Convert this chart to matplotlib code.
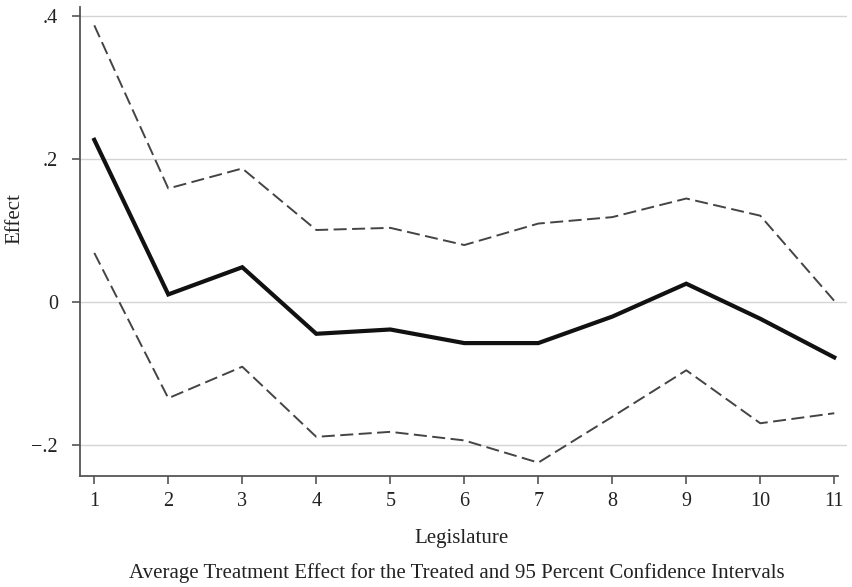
import matplotlib
matplotlib.use('Agg')
import matplotlib.pyplot as plt

# legislature number, point estimate and 95% CI bounds
legislature = [1, 2, 3, 4, 5, 6, 7, 8, 9, 10, 11]
effect = [0.227, 0.011, 0.049, -0.044, -0.038, -0.057, -0.057, -0.020, 0.026, -0.023, -0.077]
upper = [0.387, 0.159, 0.187, 0.101, 0.104, 0.080, 0.110, 0.119, 0.145, 0.121, 0.002]
lower = [0.069, -0.134, -0.090, -0.188, -0.181, -0.193, -0.224, -0.160, -0.095, -0.169, -0.155]

yticks = [-0.2, 0, 0.2, 0.4]
ytick_labels = ['\u2212.2', '0', '.2', '.4']

plt.rcParams['font.family'] = ['Liberation Serif', 'DejaVu Serif']

W, H = 853, 587
fig = plt.figure(figsize=(W / 100, H / 100), dpi=100)
ax = fig.add_axes([80 / W, 1 - 475.5 / H, (846.7 - 80) / W, (475.5 - 6.7) / H])

ax.set_xlim(0.807, 11.168)
ax.set_ylim(-0.242, 0.413)

for y in yticks:
    ax.axhline(y, color='#d4d4d4', lw=1.0, zorder=0)

ax.plot(legislature, upper, color='#444444', lw=1.4, dashes=(6.7, 2.8))
ax.plot(legislature, lower, color='#444444', lw=1.4, dashes=(6.7, 2.8))
ax.plot(legislature, effect, color='#111111', lw=3.0, solid_joinstyle='miter')

ax.spines['top'].set_visible(False)
ax.spines['right'].set_visible(False)
for s in ('left', 'bottom'):
    ax.spines[s].set_color('#555555')
    ax.spines[s].set_linewidth(1.3)
ax.spines['bottom'].set_bounds(0.807, 11.05)

ax.set_xticks(legislature)
ax.set_xticklabels([str(v) for v in legislature])
ax.set_yticks(yticks)
ax.set_yticklabels(ytick_labels)
ax.tick_params(axis='both', direction='out', length=6, width=1.2, color='#555555',
               labelsize=14.5, labelcolor='#222222')
ax.tick_params(axis='x', pad=6)
ax.tick_params(axis='y', pad=10)

fig.text(462 / W, 1 - 538 / H, 'Legislature', ha='center', va='center',
         fontsize=15, color='#222222')
fig.text(15 / W, 1 - 219 / H, 'Effect', rotation=90, ha='center', va='center',
         fontsize=15, color='#222222')
fig.text(457 / W, 1 - 573 / H,
         'Average Treatment Effect for the Treated and 95 Percent Confidence Intervals',
         ha='center', va='center', fontsize=15, color='#222222')

fig.savefig('out.png', dpi=100)
